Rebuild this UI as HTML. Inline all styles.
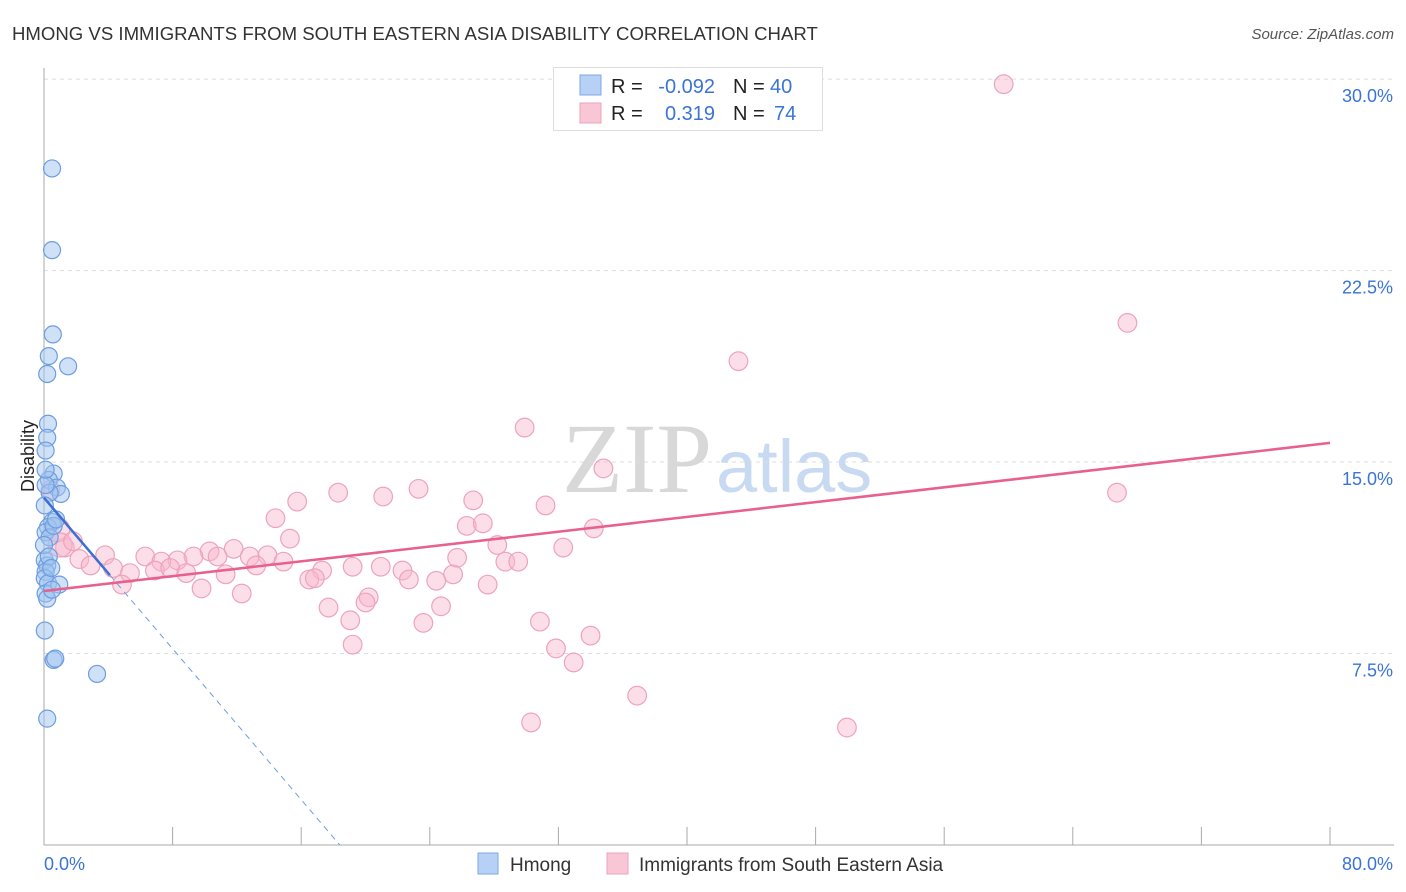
<!DOCTYPE html>
<html><head><meta charset="utf-8"><style>
body{margin:0;background:#fff;font-family:"Liberation Sans",sans-serif;}
svg{display:block}
</style></head><body>
<svg id="chart" width="1406" height="892" xmlns="http://www.w3.org/2000/svg">
<text x="12" y="40" font-size="18.6" fill="#333">HMONG VS IMMIGRANTS FROM SOUTH EASTERN ASIA DISABILITY CORRELATION CHART</text>
<text x="1394" y="39" font-size="15" fill="#555" font-style="italic" text-anchor="end">Source: ZipAtlas.com</text>
<text x="712" y="492" font-size="100" fill="#d8d8d8" text-anchor="end" font-family="Liberation Serif,serif">ZIP</text>
<text x="716" y="492" font-size="74" fill="#c8daf2">atlas</text>
<g id="grid"></g>
<g id="axes"></g>
<g id="pts"></g>
<g id="trend"></g>
<text x="34" y="456" font-size="18" fill="#222" text-anchor="middle" transform="rotate(-90 34 456)">Disability</text>
<g>
<rect x="553.5" y="67.5" width="269" height="63" fill="#fff" stroke="#ddd"/>
<rect x="580" y="75" width="21" height="20" fill="#b7d0f5" stroke="#7ea8e4"/>
<rect x="580" y="103" width="21" height="20" fill="#f9c6d6" stroke="#eba3bb"/>
<text x="611" y="93" font-size="20" fill="#222">R =</text>
<text x="715" y="93" font-size="20" fill="#3a74d6" text-anchor="end">-0.092</text>
<text x="733" y="93" font-size="20" fill="#222">N =</text>
<text x="770" y="93" font-size="20" fill="#3a74d6">40</text>
<text x="611" y="120" font-size="20" fill="#222">R =</text>
<text x="715" y="120" font-size="20" fill="#3a74d6" text-anchor="end">0.319</text>
<text x="733" y="120" font-size="20" fill="#222">N =</text>
<text x="774" y="120" font-size="20" fill="#3a74d6">74</text>
</g>
<g>
<rect x="478" y="853" width="20" height="21" fill="#b7d0f5" stroke="#7ea8e4"/>
<text x="510" y="871" font-size="19" fill="#333">Hmong</text>
<rect x="607" y="853" width="21" height="21" fill="#f9c6d6" stroke="#eba3bb"/>
<text x="639" y="871" font-size="19" fill="#333">Immigrants from South Eastern Asia</text>
</g>
<script>
const yTicks=[7.5,15,22.5,30];
const yTickLabels=["7.5%","15.0%","22.5%","30.0%"];
const xTickVals=[0,8,16,24,32,40,48,56,64,72,80];
const hmongX=[0.5,0.5,0.55,0.3,0.2,1.5,0.25,0.2,0.1,0.6,0.3,0.8,1.05,0.35,0.1,0.5,0.25,0.1,0.35,0.6,0.05,0.2,0.1,0.05,0.25,0.95,0.1,0.2,0.05,0.6,0.7,3.3,0.2,0,0.3,0.5,0.05,0.45,0.1,0.75];
const hmongY=[26.5,23.3,20.0,19.15,18.45,18.75,16.5,15.95,15.45,14.55,14.3,14.0,13.75,13.8,14.1,12.65,12.45,12.25,12.05,12.5,11.15,10.95,10.7,10.45,10.25,10.2,9.85,9.65,8.4,7.25,7.3,6.7,4.95,11.75,11.3,10.0,13.3,10.85,14.7,12.75];
const seaX=[59.7,67.4,43.2,29.9,34.8,66.75,15.75,18.3,21.1,23.3,26.7,31.2,14.4,26.3,27.3,34.2,15.3,28.2,32.3,11.8,10.3,1.3,3.8,6.3,9.3,8.3,10.8,12.8,13.9,7.3,2.2,2.9,4.3,5.35,6.9,7.85,8.85,11.3,13.2,14.9,17.3,16.5,16.85,19.2,20.95,22.3,22.7,24.4,25.45,25.7,28.7,29.5,27.6,4.85,9.8,12.3,20.2,20.0,17.7,24.7,19.05,23.6,30.85,34.0,19.2,31.85,32.95,36.9,30.3,49.95,0.85,1.0,0.4,1.8];
const seaY=[29.8,20.45,18.95,16.35,14.75,13.8,13.45,13.8,13.65,13.95,13.5,13.3,12.8,12.5,12.6,12.4,12.0,11.75,11.65,11.6,11.5,11.65,11.35,11.3,11.3,11.15,11.3,11.3,11.35,11.1,11.2,10.95,10.85,10.65,10.75,10.85,10.65,10.6,10.95,11.1,10.75,10.4,10.45,10.9,10.9,10.75,10.4,10.35,10.6,11.25,11.1,11.1,10.2,10.2,10.05,9.85,9.7,9.5,9.3,9.35,8.8,8.7,8.75,8.2,7.85,7.7,7.15,5.85,4.8,4.6,12.35,11.75,13.9,11.9];
const hmongTrend=[13.6,-0.739];
const seaTrend=[9.95,0.0725];
const NS='http://www.w3.org/2000/svg';
const X=v=>44+v*16.075, Y=v=>845-v*25.53;
function mk(tag,at,parent){const e=document.createElementNS(NS,tag);for(const k in at)e.setAttribute(k,at[k]);parent.appendChild(e);return e;}
const grid=document.getElementById('grid'),axes=document.getElementById('axes'),pts=document.getElementById('pts'),tr=document.getElementById('trend');
yTicks.forEach((t,i)=>{
 const l=mk('line',{x1:44,x2:1394,y1:Y(t),y2:Y(t),stroke:'#ddd','stroke-dasharray':'4,4'},grid);
 
 
 const tx=mk('text',{x:1393,y:Y(t)+23,'font-size':18,fill:'#3a74d6','text-anchor':'end'},grid);
 tx.textContent=yTickLabels[i];
 
 
});
const ya=mk('line',{x1:44,x2:44,y1:68,y2:845,stroke:'#aaa'},axes);


const xa=mk('line',{x1:44,x2:1394,y1:845,y2:845,stroke:'#aaa'},axes);


xTickVals.forEach(v=>{
 const t=mk('line',{x1:X(v),x2:X(v),y1:827,y2:845,stroke:'#aaa'},axes);
 
 
});
const xl0=mk('text',{x:44,y:870,'font-size':18,fill:'#3a74d6'},axes);xl0.textContent='0.0%';


const xl1=mk('text',{x:1393,y:870,'font-size':18,fill:'#3a74d6','text-anchor':'end'},axes);xl1.textContent='80.0%';


seaX.forEach((v,i)=>{
 const c=mk('circle',{cx:X(v),cy:Y(seaY[i]),r:(i>=70&&i<=71)?12:9.3,fill:'rgba(248,182,203,0.45)',stroke:'#eda3bc','stroke-width':1.2},pts);
 
 
});
hmongX.forEach((v,i)=>{
 const c=mk('circle',{cx:X(v),cy:Y(hmongY[i]),r:8.5,fill:'rgba(160,196,240,0.5)',stroke:'#6d9de0','stroke-width':1.2},pts);
 
 
});
const s1=mk('line',{x1:X(0),y1:Y(seaTrend[0]),x2:X(80),y2:Y(seaTrend[0]+seaTrend[1]*80),stroke:'#e8608e','stroke-width':2.5},tr);


const b1=mk('line',{x1:X(0),y1:Y(hmongTrend[0]),x2:X(4.1),y2:Y(hmongTrend[0]+hmongTrend[1]*4.1),stroke:'#3b6fd4','stroke-width':2.5},tr);


const xe=-hmongTrend[0]/hmongTrend[1];
const b2=mk('line',{x1:X(4.1),y1:Y(hmongTrend[0]+hmongTrend[1]*4.1),x2:X(xe),y2:Y(0),stroke:'#6d9de0','stroke-width':1,'stroke-dasharray':'6,5'},tr);


</script>
</svg>
</body></html>
